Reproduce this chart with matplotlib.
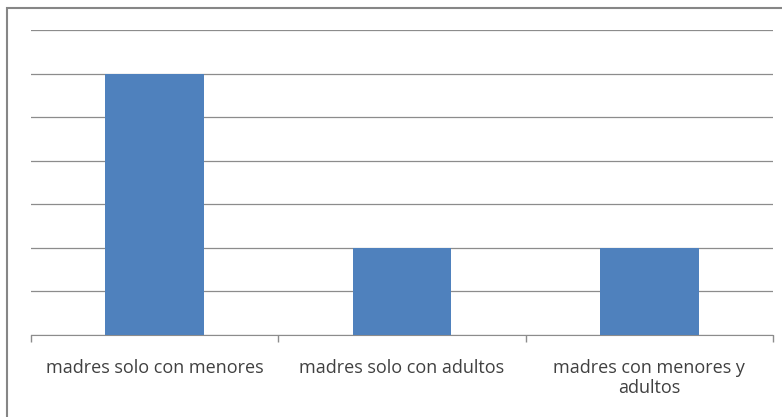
import matplotlib
matplotlib.use("Agg")
import matplotlib.pyplot as plt
from matplotlib.patches import Rectangle

categories = ["madres solo con menores", "madres solo con adultos", "madres con menores y\nadultos"]
values = [6, 2, 2]

plt.rcParams['font.family'] = ['Open Sans', 'DejaVu Sans']

fig = plt.figure(figsize=(7.82, 4.17), dpi=100)
W, H = 782, 417
ax = fig.add_axes([31 / W, 1 - 335 / H, (773 - 31) / W, (335 - 30) / H])

x = list(range(len(categories)))
ax.bar(x, values, width=0.4, color="#4F81BD", zorder=3)
ax.set_xlim(-0.5, len(categories) - 0.5)
ax.set_ylim(0, 7)
ax.set_yticks(range(0, 8))
ax.yaxis.grid(True, color="#8C8C8C", linewidth=0.9, zorder=0)
ax.tick_params(axis="y", length=0, labelleft=False)
ax.set_xticks([i - 0.5 for i in range(len(categories) + 1)], minor=False)
ax.set_xticklabels([])
ax.tick_params(axis="x", which="major", length=5, color="#8C8C8C", width=1, direction="out")
ax.set_xticks(x, minor=True)
ax.set_xticklabels(categories, minor=True, fontsize=13, color="#404040", linespacing=1.15)
ax.tick_params(axis="x", which="minor", length=0, pad=17)
for s in ["top", "right", "left"]:
    ax.spines[s].set_visible(False)
ax.spines["bottom"].set_color("#8C8C8C")

fig.patches.append(Rectangle((7 / W, -0.1), 1.2, 1 - 8 / H + 0.1, transform=fig.transFigure,
                             fill=False, edgecolor="#868686", linewidth=1.5))

fig.savefig("out.png", dpi=100)
